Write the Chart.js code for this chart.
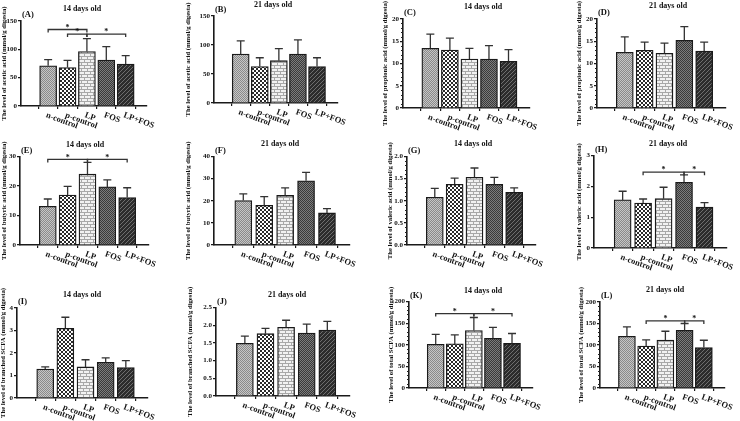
<!DOCTYPE html>
<html>
<head>
<meta charset="utf-8">
<script src="https://cdn.jsdelivr.net/npm/chart.js@4.4.1/dist/chart.umd.min.js"></script>
<style>
  html, body { margin: 0; padding: 0; background: #fff; }
  #fig { position: relative; width: 740px; height: 421px; overflow: hidden; }
  #fig canvas { position: absolute; }
</style>
</head>
<body>
<div id="fig"></div>
<script>
const groups = ['n-control', 'p-control', 'LP', 'FOS', 'LP+FOS'];

// mean and SD per panel
const acetic14Mean = [71, 68, 96, 81, 74];
const acetic14Sd = [11, 12.6, 23, 23.7, 15];
const acetic21Mean = [84.5, 63, 73, 84.5, 63];
const acetic21Sd = [22.5, 15, 20.6, 24.5, 15];
const propionic14Mean = [13.4, 13.0, 11.0, 11.0, 10.5];
const propionic14Sd = [3.2, 2.7, 2.4, 3.0, 2.6];
const propionic21Mean = [12.5, 12.95, 12.3, 15.2, 12.8];
const propionic21Sd = [3.5, 1.85, 2.3, 3.1, 2.0];
const butyric14Mean = [13.1, 16.9, 24.0, 19.7, 16.1];
const butyric14Sd = [2.5, 3.0, 4.0, 2.4, 3.3];
const butyric21Mean = [20.1, 17.9, 22.4, 29.0, 14.5];
const butyric21Sd = [3.0, 4.0, 3.4, 3.8, 1.9];
const valeric14Mean = [1.08, 1.37, 1.53, 1.37, 1.19];
const valeric14Sd = [0.2, 0.14, 0.21, 0.16, 0.1];
const valeric21Mean = [1.56, 1.46, 1.6, 2.13, 1.33];
const valeric21Sd = [0.28, 0.13, 0.37, 0.24, 0.14];
const branched14Mean = [1.29, 3.1, 1.38, 1.59, 1.35];
const branched14Sd = [0.09, 0.49, 0.32, 0.19, 0.31];
const branched21Mean = [1.49, 1.76, 1.94, 1.78, 1.86];
const branched21Sd = [0.2, 0.15, 0.2, 0.25, 0.25];
const total14Mean = [100.8, 102, 133, 115, 103];
const total14Sd = [23.2, 21, 30, 25, 23];
const total21Mean = [120, 97.7, 111.5, 134, 94];
const total21Sd = [22, 14.3, 20.5, 16, 17];

// significance brackets: [from group, to group, height]
const acetic14Sig = [[0, 2, 135], [1, 2, 127], [2, 4, 127]];
const butyric14Sig = [[0, 2, 29], [2, 4, 29]];
const valeric21Sig = [[1, 3, 2.46], [3, 4, 2.46]];
const total14Sig = [[0, 2, 172], [2, 4, 172]];
const total21Sig = [[1, 3, 156], [3, 4, 156]];

const panelLetters = ['(A)', '(B)', '(C)', '(D)', '(E)', '(F)', '(G)', '(H)', '(I)', '(J)', '(K)', '(L)'];
const panelTitles = ['14 days old', '21 days old', '14 days old', '21 days old',
  '14 days old', '21 days old', '14 days old', '21 days old',
  '14 days old', '21 days old', '14 days old', '21 days old'];
const yTitles = [
  'The level of acetic acid (mmol/g digesta)', 'The level of acetic acid (mmol/g digesta)',
  'The level of propionic acid (mmol/g digesta)', 'The level of propionic acid (mmol/g digesta)',
  'The level of butyric acid (mmol/g digesta)', 'The level of butyric acid (mmol/g digesta)',
  'The level of valeric acid (mmol/g digesta)', 'The level of valeric acid (mmol/g digesta)',
  'The level of branched SCFA (mmol/g digesta)', 'The level of branched SCFA (mmol/g digesta)',
  'The level of total SCFA (mmol/g digesta)', 'The level of total SCFA (mmol/g digesta)'
];
const yMax = [150, 150, 20, 20, 30, 40, 2, 3, 4, 2.5, 200, 200];
const yStep = [50, 50, 5, 5, 10, 10, 0.5, 1, 1, 0.5, 50, 50];
const yMinorDiv = [0, 0, 5, 5, 0, 0, 5, 0, 0, 0, 5, 5];

const means = [acetic14Mean, acetic21Mean, propionic14Mean, propionic21Mean, butyric14Mean, butyric21Mean,
  valeric14Mean, valeric21Mean, branched14Mean, branched21Mean, total14Mean, total21Mean];
const sds = [acetic14Sd, acetic21Sd, propionic14Sd, propionic21Sd, butyric14Sd, butyric21Sd,
  valeric14Sd, valeric21Sd, branched14Sd, branched21Sd, total14Sd, total21Sd];
const sigs = [acetic14Sig, [], [], [], butyric14Sig, [], [], valeric21Sig, [], [], total14Sig, total21Sig];

// page layout of each panel: plot edges, title centre, y-title x
const boxes = [
  { L: 21, T: 21, B: 106, R: 147, tx: 82, ty: 9, yt: 5 },
  { L: 214, T: 16, B: 103, R: 338, tx: 273, ty: 5, yt: 189 },
  { L: 403, T: 19, B: 108, R: 530, tx: 483, ty: 7, yt: 386 },
  { L: 597, T: 19, B: 108, R: 726, tx: 668, ty: 6, yt: 580 },
  { L: 20, T: 156, B: 245, R: 149, tx: 85, ty: 144, yt: 5 },
  { L: 214, T: 156, B: 245, R: 350, tx: 280, ty: 143, yt: 189 },
  { L: 407, T: 156, B: 245, R: 536, tx: 473, ty: 143, yt: 391 },
  { L: 594, T: 155, B: 248, R: 727, tx: 668, ty: 143, yt: 580 },
  { L: 17, T: 308, B: 398, R: 148, tx: 82, ty: 295, yt: 4 },
  { L: 216, T: 307, B: 396, R: 350, tx: 287, ty: 294, yt: 191 },
  { L: 409, T: 301, B: 388, R: 533, tx: 483, ty: 290, yt: 392 },
  { L: 600, T: 302, B: 388, R: 725, tx: 665, ty: 290, yt: 582 }
];

const SERIF = '"Liberation Serif", "Times New Roman", serif';

function makePattern(kind) {
  const c = document.createElement('canvas');
  const g = c.getContext('2d');
  if (kind === 'fine') {
    c.width = 2; c.height = 2;
    g.fillStyle = '#c6c6c6'; g.fillRect(0, 0, 2, 2);
    g.fillStyle = '#8a8a8a'; g.fillRect(0, 0, 1, 1); g.fillRect(1, 1, 1, 1);
  } else if (kind === 'checker') {
    c.width = 4; c.height = 4;
    g.fillStyle = '#ffffff'; g.fillRect(0, 0, 4, 4);
    g.fillStyle = '#2a2a2a'; g.fillRect(0, 0, 2, 2); g.fillRect(2, 2, 2, 2);
  } else if (kind === 'brick') {
    c.width = 6; c.height = 6;
    g.fillStyle = '#f2f2f2'; g.fillRect(0, 0, 6, 6);
    g.fillStyle = '#a8a8a8';
    g.fillRect(0, 2, 6, 1); g.fillRect(0, 5, 6, 1);
    g.fillRect(0, 0, 1, 2); g.fillRect(3, 3, 1, 2);
  } else if (kind === 'dark') {
    c.width = 2; c.height = 2;
    g.fillStyle = '#3a3a3a'; g.fillRect(0, 0, 2, 2);
    g.fillStyle = '#7c7c7c'; g.fillRect(0, 0, 1, 1); g.fillRect(1, 1, 1, 1);
  } else {
    c.width = 4; c.height = 4;
    g.fillStyle = '#2c2c2c'; g.fillRect(0, 0, 4, 4);
    g.fillStyle = '#6e6e6e';
    for (let i = 0; i < 4; i++) g.fillRect(i, 3 - i, 1, 1);
  }
  return g.createPattern(c, 'repeat');
}

const barFills = ['fine', 'checker', 'brick', 'dark', 'diag'].map(makePattern);

function decorPlugin(idx, box, left, top) {
  const mean = means[idx], sd = sds[idx], sig = sigs[idx];
  return {
    id: 'decor',
    afterDatasetsDraw(chart) {
      const ctx = chart.ctx, xs = chart.scales.x, ys = chart.scales.y;
      ctx.save();
      // error bars (mean + SD)
      ctx.strokeStyle = '#333';
      ctx.lineWidth = 1.3;
      mean.forEach((m, i) => {
        const cx = xs.getPixelForValue(i);
        const y0 = ys.getPixelForValue(m);
        const y1 = ys.getPixelForValue(m + sd[i]);
        ctx.beginPath();
        ctx.moveTo(cx, y0); ctx.lineTo(cx, y1);
        ctx.moveTo(cx - 4, y1); ctx.lineTo(cx + 4, y1);
        ctx.stroke();
      });
      ctx.restore();
    },
    afterDraw(chart) {
      const ctx = chart.ctx, xs = chart.scales.x, ys = chart.scales.y;
      const area = chart.chartArea;
      ctx.save();
      // minor ticks
      if (yMinorDiv[idx]) {
        const minor = yStep[idx] / yMinorDiv[idx];
        ctx.strokeStyle = '#222';
        ctx.lineWidth = 1;
        for (let k = 1; k * minor < yMax[idx]; k++) {
          if (k % yMinorDiv[idx] === 0) continue;
          const py = Math.round(ys.getPixelForValue(k * minor)) + 0.5;
          ctx.beginPath(); ctx.moveTo(area.left, py); ctx.lineTo(area.left - 2, py); ctx.stroke();
        }
      }
      // significance brackets
      ctx.strokeStyle = '#333';
      ctx.lineWidth = 1.3;
      ctx.fillStyle = '#111';
      ctx.font = 'bold 8px ' + SERIF;
      ctx.textAlign = 'center';
      ctx.textBaseline = 'middle';
      sig.forEach(([a, b, v]) => {
        const xa = xs.getPixelForValue(a), xb = xs.getPixelForValue(b);
        const py = ys.getPixelForValue(v);
        ctx.beginPath();
        ctx.moveTo(xa, py + 3); ctx.lineTo(xa, py); ctx.lineTo(xb, py); ctx.lineTo(xb, py + 3);
        ctx.stroke();
        ctx.fillText('*', (xa + xb) / 2, py - 2);
      });
      // panel title and letter
      ctx.font = 'bold 8px ' + SERIF;
      ctx.fillText(panelTitles[idx], box.tx - left, box.ty - top);
      ctx.textAlign = 'left';
      ctx.font = 'bold 8.5px ' + SERIF;
      ctx.fillText(panelLetters[idx], area.left + 1, area.top - 6);
      // slanted group labels
      ctx.font = 'bold 8.5px ' + SERIF;
      groups.forEach((g, i) => {
        const cx = xs.getPixelForValue(i);
        ctx.save();
        ctx.translate(cx - 2, area.bottom + 9);
        ctx.rotate(20 * Math.PI / 180);
        ctx.fillText(g, 0, 0);
        ctx.restore();
      });
      ctx.restore();
    }
  };
}

const fig = document.getElementById('fig');

boxes.forEach((box, idx) => {
  const left = box.yt - 5;
  const top = Math.max(0, Math.min(box.ty - 8, (box.T + box.B) / 2 - 72));
  const right = Math.min(740, box.R + 32);
  const bottom = Math.min(421, box.B + 32);
  const canvas = document.createElement('canvas');
  canvas.width = right - left;
  canvas.height = bottom - top;
  canvas.style.left = left + 'px';
  canvas.style.top = top + 'px';
  fig.appendChild(canvas);

  const axisColor = '#1a1a1a';
  new Chart(canvas, {
    type: 'bar',
    data: {
      datasets: [{
        data: means[idx].map((v, i) => ({ x: i, y: v })),
        backgroundColor: barFills,
        borderColor: '#1a1a1a',
        borderWidth: 1.3,
        barThickness: 17
      }]
    },
    options: {
      responsive: false,
      animation: false,
      events: [],
      layout: { padding: { top: box.T - top, right: right - box.R, left: 0, bottom: 0 } },
      plugins: { legend: { display: false }, tooltip: { enabled: false } },
      scales: {
        x: {
          type: 'linear',
          min: -0.75,
          max: 4.45,
          afterBuildTicks: (s) => { s.ticks = groups.map((g, i) => ({ value: i })); },
          afterFit: (s) => { s.height = bottom - box.B; },
          ticks: { display: false },
          grid: { display: true, drawOnChartArea: false, drawTicks: true, tickLength: 3, color: axisColor, lineWidth: 1.2 },
          border: { display: true, color: axisColor, width: 1.6 }
        },
        y: {
          min: 0,
          max: yMax[idx],
          afterFit: (s) => { s.width = box.L - left; },
          ticks: {
            stepSize: yStep[idx],
            padding: 1,
            color: '#111',
            font: { family: SERIF, size: 7, weight: 'bold' },
            callback: (v) => yStep[idx] < 1 ? v.toFixed(1) : v
          },
          title: {
            display: true,
            text: yTitles[idx],
            color: '#111',
            padding: 0,
            font: { family: SERIF, size: 6.7, weight: 'bold' }
          },
          grid: { display: true, drawOnChartArea: false, drawTicks: true, tickLength: 3, color: axisColor, lineWidth: 1.2 },
          border: { display: true, color: axisColor, width: 1.6 }
        }
      }
    },
    plugins: [decorPlugin(idx, box, left, top)]
  });
});
</script>
</body>
</html>
